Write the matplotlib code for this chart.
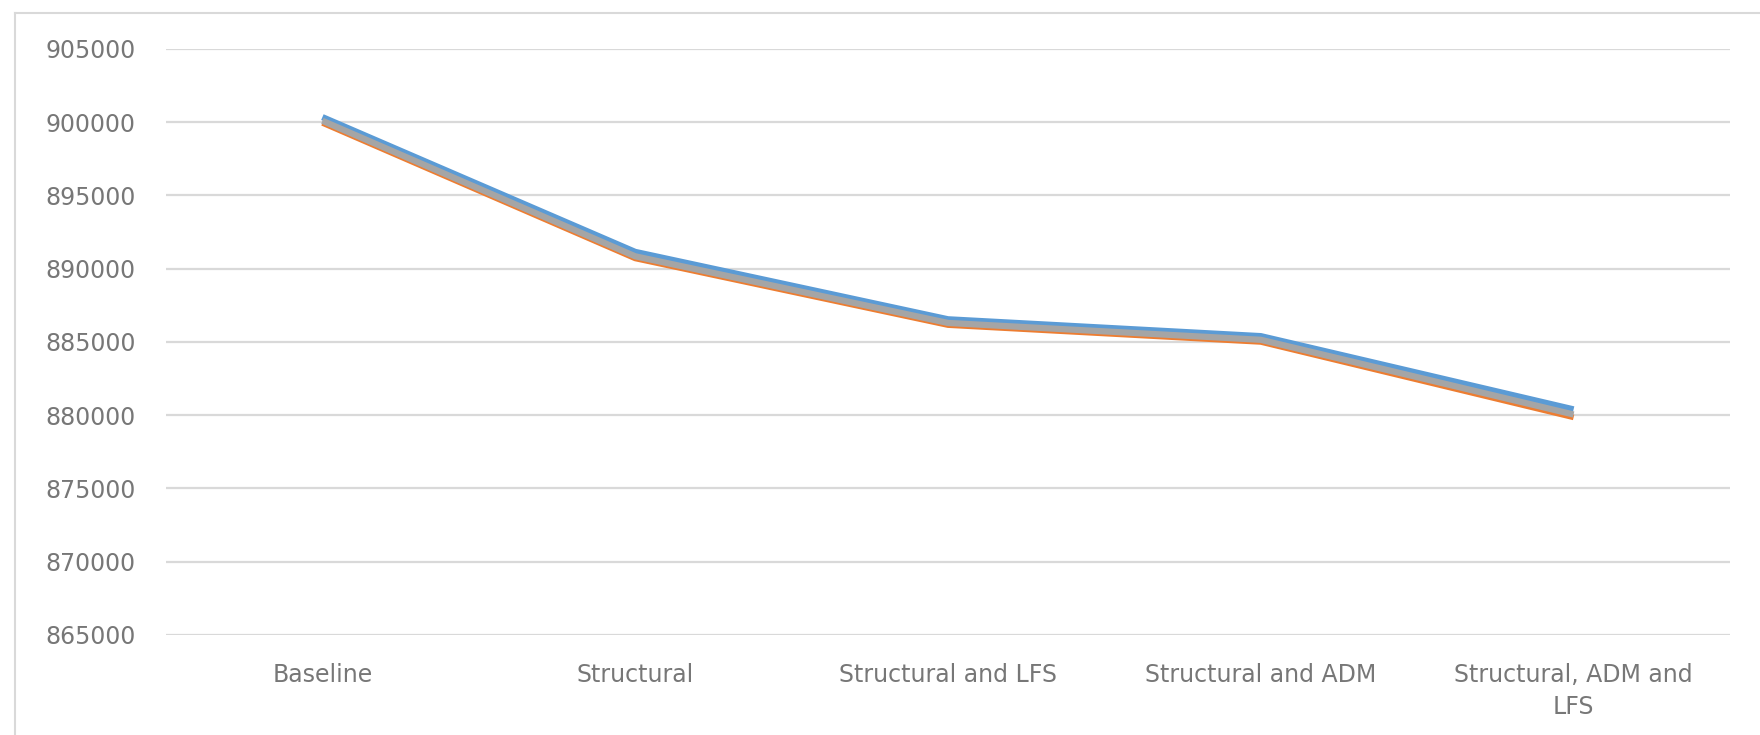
import matplotlib.pyplot as plt
from matplotlib.lines import Line2D

categories = ["Baseline", "Structural", "Structural and LFS", "Structural and ADM",
              "Structural, ADM and\nLFS"]
series_blue = [900350, 891150, 886550, 885400, 880400]
series_orange = [899950, 890700, 886150, 885000, 879850]
series_gray = [900100, 890850, 886300, 885150, 880050]
y_ticks = list(range(865000, 905001, 5000))

text_col = "#777777"
grid_col = "#d9d9d9"

fig = plt.figure(figsize=(17.6, 7.35), dpi=100)
ax = fig.add_axes([166 / 1760, 1 - 635 / 735, (1730 - 166) / 1760, (635 - 49) / 735])

x = range(len(categories))
ax.plot(x, series_blue, color="#5B9BD5", lw=4.5, solid_capstyle="butt", zorder=3)
ax.plot(x, series_orange, color="#ED7D31", lw=4, solid_capstyle="butt", zorder=3)
ax.plot(x, series_gray, color="#A5A5A5", lw=4.5, solid_capstyle="butt", zorder=3)

ax.set_xlim(-0.5, len(categories) - 0.5)
ax.set_ylim(865000, 905000)
ax.set_yticks(y_ticks)
ax.set_yticklabels([str(v) for v in y_ticks])
ax.set_xticks(list(x))
ax.set_xticklabels(categories, linespacing=1.45)

ax.grid(axis="y", color=grid_col, lw=1.6)
ax.set_axisbelow(True)
for s in ax.spines.values():
    s.set_visible(False)
ax.tick_params(axis="y", length=0, pad=22, labelsize=17, labelcolor=text_col)
ax.tick_params(axis="x", length=0, pad=20, labelsize=17, labelcolor=text_col)
for lbl in ax.get_xticklabels():
    lbl.set_verticalalignment("top")

# light chart-area border (top and left visible)
x0 = 15 / 1760
y0 = 1 - 13 / 735
fig.add_artist(Line2D([x0, 1], [y0, y0], transform=fig.transFigure, color=grid_col, lw=1.5))
fig.add_artist(Line2D([x0, x0], [0, y0], transform=fig.transFigure, color=grid_col, lw=1.5))

fig.savefig("out.png", dpi=100)
